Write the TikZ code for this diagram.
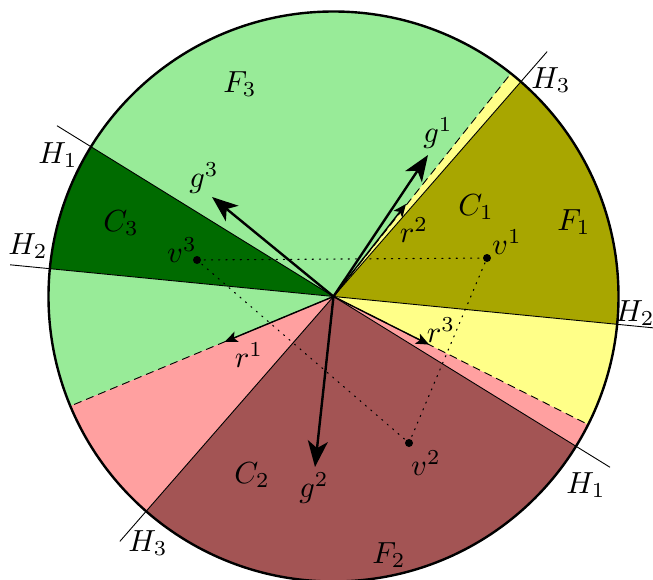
\documentclass[tikz,border=0pt]{standalone}
\usetikzlibrary{arrows.meta,calc}
\definecolor{lgreen}{RGB}{152,235,152}
\definecolor{dgreen}{RGB}{0,107,0}
\definecolor{olivec}{RGB}{168,166,0}
\definecolor{lyellow}{RGB}{255,255,136}
\definecolor{pinkc}{RGB}{255,160,160}
\definecolor{dred}{RGB}{163,84,84}
\begin{document}
\begin{tikzpicture}[x=1pt,y=1pt,
 hline/.style={line width=0.9pt},
 dline/.style={line width=0.9pt, dash pattern=on 8pt off 5pt},
 dotl/.style={line width=1.1pt, dash pattern=on 1.2pt off 6pt, line cap=round},
 garrow/.style={line width=2.4pt, -{Stealth[length=26pt,width=20pt,inset=7pt]}},
 rarrow/.style={line width=1.4pt, -{Stealth[length=13pt,width=11pt,inset=3pt]}},
 lab/.style={inner sep=0pt, scale=3.05},
 vdot/.style={circle, fill=black, inner sep=0pt, minimum size=8pt}]
\useasboundingbox (0,0) rectangle (653,-580);
\coordinate (O) at (333.5,-296.5);
% sectors
\fill[olivec]  (O) -- ++(-5.6:285pt) arc[start angle=-5.6, end angle=48.9, radius=285pt] -- cycle;
\fill[lyellow] (O) -- ++(48.9:285pt) arc[start angle=48.9, end angle=51.5, radius=285pt] -- cycle;
\fill[lgreen]  (O) -- ++(51.5:285pt) arc[start angle=51.5, end angle=148.3, radius=285pt] -- cycle;
\fill[dgreen]  (O) -- ++(148.3:285pt) arc[start angle=148.3, end angle=174.4, radius=285pt] -- cycle;
\fill[lgreen]  (O) -- ++(174.4:285pt) arc[start angle=174.4, end angle=202.6, radius=285pt] -- cycle;
\fill[pinkc]   (O) -- ++(202.6:285pt) arc[start angle=202.6, end angle=228.9, radius=285pt] -- cycle;
\fill[dred]    (O) -- ++(228.9:285pt) arc[start angle=228.9, end angle=328.3, radius=285pt] -- cycle;
\fill[pinkc]   (O) -- ++(328.3:285pt) arc[start angle=328.3, end angle=333.3, radius=285pt] -- cycle;
\fill[lyellow] (O) -- ++(333.3:285pt) arc[start angle=333.3, end angle=354.4, radius=285pt] -- cycle;
% line ends
\coordinate (H1a) at ($(O)+(148.3:325pt)$);
\coordinate (H1b) at ($(O)+(-31.7:325pt)$);
\coordinate (H2a) at ($(O)+(174.4:325pt)$);
\coordinate (H2b) at ($(O)+(-5.6:325pt)$);
\coordinate (H3a) at ($(O)+(48.9:325pt)$);
\coordinate (H3b) at ($(O)+(228.9:325pt)$);
\coordinate (D1) at ($(O)+(202.6:285pt)$);
\coordinate (D2) at ($(O)+(51.5:285pt)$);
\coordinate (D3) at ($(O)+(333.3:285pt)$);
% H lines and dashed lines
\draw[hline] (H1a) -- (H1b);
\draw[hline] (H2a) -- (H2b);
\draw[hline] (H3a) -- (H3b);
\draw[dline] (O) -- (D1);
\draw[dline] (O) -- (D2);
\draw[dline] (O) -- (D3);
% circle
\draw[line width=2.4pt] (O) circle[radius=285pt];
% vertices and dotted triangle
\node[vdot] (v1) at (487,-258) {};
\node[vdot] (v2) at (409,-443) {};
\node[vdot] (v3) at (197,-260) {};
\draw[dotl] (v3.center) -- (v1.center) -- (v2.center) -- (v3.center);
% arrows
\coordinate (g1) at (428,-155);
\coordinate (g2) at (315,-467);
\coordinate (g3) at (212,-197);
\coordinate (r1) at ($(O)+(202.6:118pt)$);
\coordinate (r2) at (406,-204);
\coordinate (r3) at ($(O)+(333.3:107pt)$);
\draw[garrow] (O) -- (g1);
\draw[garrow] (O) -- (g2);
\draw[garrow] (O) -- (g3);
\draw[rarrow] (O) -- (r1);
\draw[rarrow] (O) -- (r2);
\draw[rarrow] (O) -- (r3);
% labels
\node[lab] (lF3) at (240,-84) {$F_3$};
\node[lab] (lF1) at (574,-222) {$F_1$};
\node[lab] (lF2) at (389,-555) {$F_2$};
\node[lab] (lC1) at (476,-207) {$C_1$};
\node[lab] (lC2) at (252,-475) {$C_2$};
\node[lab] (lC3) at (121,-223) {$C_3$};
\node[lab] (lg1) at (438,-133) {$g^1$};
\node[lab] (lg2) at (314,-488) {$g^2$};
\node[lab] (lg3) at (204,-178) {$g^3$};
\node[lab] (lr1) at (249,-355) {$r^1$};
\node[lab] (lr2) at (414,-230) {$r^2$};
\node[lab] (lr3) at (441,-330) {$r^3$};
\node[lab] (lv1) at (507,-242) {$v^1$};
\node[lab] (lv2) at (426,-463) {$v^2$};
\node[lab] (lv3) at (182,-250) {$v^3$};
\node[lab] (lH1a) at (58,-155) {$H_1$};
\node[lab] (lH1b) at (586,-485) {$H_1$};
\node[lab] (lH2a) at (28,-246) {$H_2$};
\node[lab] (lH2b) at (635,-313) {$H_2$};
\node[lab] (lH3a) at (551,-80) {$H_3$};
\node[lab] (lH3b) at (148,-543) {$H_3$};
\end{tikzpicture}
\end{document}
